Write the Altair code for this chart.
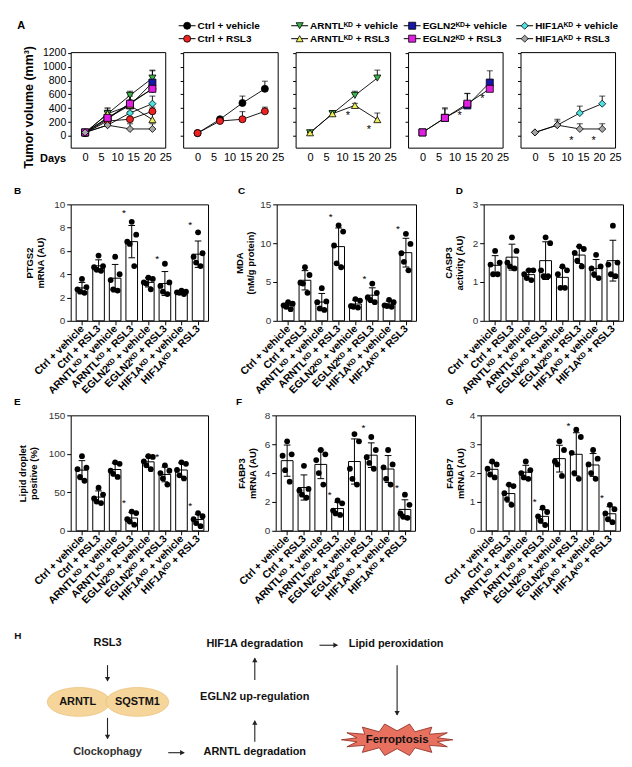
import json, math
import altair as alt
import pandas as pd

FONT = "Liberation Sans"

# ================= Panel A: tumour volume =================
DAYS = [0, 7, 14, 21]
SERIES = ["Ctrl + vehicle", "ARNTLᴷᴰ + vehicle", "EGLN2ᴷᴰ+ vehicle", "HIF1Aᴷᴰ + vehicle",
          "Ctrl + RSL3", "ARNTLᴷᴰ + RSL3", "EGLN2ᴷᴰ + RSL3", "HIF1Aᴷᴰ + RSL3"]
SERIES_GROUP = ["ctrl", "arntl", "egln2", "hif1a", "ctrl", "arntl", "egln2", "hif1a"]
SERIES_COL = [1, 2, 3, 4, 1, 2, 3, 4]
SERIES_ROW = [0, 0, 0, 0, 1, 1, 1, 1]
SERIES_FILL = ["#000000", "#3cb44a", "#1616a8", "#4ee3e3", "#ee2222", "#f0ef5a", "#e11fe0", "#a6a6a6"]
SERIES_SHAPE = ["circle", "triangle-down", "square", "diamond", "circle", "triangle-up", "square", "diamond"]

ctrl_vehicle_vol = [40, 240, 475, 680]
arntl_vehicle_vol = [45, 320, 585, 835]
egln2_vehicle_vol = [50, 260, 440, 770]
hif1a_vehicle_vol = [50, 155, 330, 465]
ctrl_rsl3_vol = [40, 215, 240, 355]
arntl_rsl3_vol = [45, 320, 440, 235]
egln2_rsl3_vol = [50, 260, 465, 680]
hif1a_rsl3_vol = [50, 155, 100, 100]

ctrl_vehicle_err = [5, 25, 100, 110]
arntl_vehicle_err = [5, 45, 60, 115]
egln2_vehicle_err = [5, 145, 170, 170]
hif1a_vehicle_err = [5, 60, 100, 110]
ctrl_rsl3_err = [5, 20, 110, 60]
arntl_rsl3_err = [5, 40, 30, 95]
egln2_rsl3_err = [5, 130, 150, 120]
hif1a_rsl3_err = [5, 85, 75, 75]

VOL = [ctrl_vehicle_vol, arntl_vehicle_vol, egln2_vehicle_vol, hif1a_vehicle_vol,
       ctrl_rsl3_vol, arntl_rsl3_vol, egln2_rsl3_vol, hif1a_rsl3_vol]
ERR = [ctrl_vehicle_err, arntl_vehicle_err, egln2_vehicle_err, hif1a_vehicle_err,
       ctrl_rsl3_err, arntl_rsl3_err, egln2_rsl3_err, hif1a_rsl3_err]

A_STAR_GROUP = ["arntl", "arntl", "egln2", "egln2", "hif1a", "hif1a"]
A_STAR_DAY = [11.8, 18.4, 11.6, 18.7, 11.4, 18.3]
A_STAR_VOL = [330, 125, 330, 570, -25, -25]

# ================= Bar panels B-G =================
CATS = ["Ctrl + vehicle", "Ctrl + RSL3", "ARNTLᴷᴰ + vehicle", "ARNTLᴷᴰ + RSL3",
        "EGLN2ᴷᴰ + vehicle", "EGLN2ᴷᴰ + RSL3", "HIF1Aᴷᴰ + vehicle", "HIF1Aᴷᴰ + RSL3"]

ptgs2_dots = [[3.6, 2.9, 2.7, 2.5, 2.4], [5.6, 4.7, 4.6, 4.4, 4.3], [5.5, 4.0, 3.5, 2.7, 2.6],
              [8.5, 7.4, 6.8, 6.6, 4.7], [3.7, 3.6, 3.3, 3.2, 2.7], [4.9, 3.3, 3.0, 2.5, 2.3],
              [2.6, 2.5, 2.45, 2.4, 2.3], [7.6, 5.8, 5.5, 5.0, 4.7]]
mda_dots = [[2.4, 2.2, 2.0, 1.8, 1.5], [6.9, 5.9, 4.9, 4.8, 3.6], [4.2, 2.5, 2.4, 1.6, 1.4],
            [12.3, 11.5, 9.7, 7.4, 6.9], [2.8, 2.6, 1.9, 1.8, 1.7], [4.8, 3.6, 3.0, 2.7, 2.4],
            [2.7, 2.4, 2.0, 1.9, 1.8], [11.2, 9.9, 8.7, 7.6, 6.5]]
casp3_dots = [[1.8, 1.5, 1.45, 1.2, 1.2], [2.15, 1.8, 1.5, 1.4, 1.35], [1.3, 1.3, 1.2, 1.1, 1.05],
              [2.15, 2.0, 1.3, 1.15, 1.15], [1.4, 1.3, 1.2, 0.85, 0.85], [1.92, 1.85, 1.75, 1.55, 1.4],
              [1.7, 1.4, 1.35, 1.2, 1.1], [2.45, 1.5, 1.45, 1.2, 1.15]]
lipid_dots = [[97, 82, 80, 70, 65], [56, 47, 42, 38, 36], [89, 87, 78, 74, 70], [25, 23, 15, 12, 8],
              [97, 96, 90, 85, 80], [85, 78, 75, 68, 60], [89, 87, 79, 72, 68], [23, 19, 15, 10, 6]]
fabp3_dots = [[6.2, 5.3, 5.2, 4.2, 3.4], [4.5, 2.9, 2.8, 2.5, 2.3], [5.6, 5.3, 4.9, 4.0, 3.2],
              [2.1, 1.9, 1.4, 1.2, 1.1], [6.7, 6.2, 4.3, 3.6, 3.2], [6.5, 5.6, 5.1, 4.7, 4.3],
              [5.6, 4.6, 4.4, 3.6, 3.2], [2.5, 1.8, 1.2, 1.0, 0.9]]
fabp7_dots = [[2.4, 2.3, 2.15, 1.95, 1.85], [1.6, 1.55, 1.3, 1.1, 0.9], [2.4, 2.1, 2.0, 1.85, 1.8],
              [0.8, 0.65, 0.5, 0.35, 0.2], [3.1, 2.8, 2.4, 2.3, 1.9], [3.5, 3.25, 2.7, 2.0, 1.8],
              [2.8, 2.5, 2.3, 2.0, 1.8], [0.9, 0.75, 0.6, 0.4, 0.3]]

STAR_BARS = [3, 5, 7]
ptgs2_stars = [9.5, 5.6, 8.5]
mda_stars = [13.8, 5.8, 12.2]
lipid_stars = [40, 100, 36]
fabp3_stars = [2.7, 7.3, 3.2]
fabp7_stars = [1.1, 3.75, 1.25]

JIT = [0.0, 0.27, -0.27, -0.12, 0.15]

# ================= Panel H: diagram =================
H_TEXT = ["H", "RSL3", "ARNTL", "SQSTM1", "Clockophagy", "ARNTL degradation", "EGLN2 up-regulation",
          "HIF1A degradation", "Lipid peroxidation", "Ferroptosis"]
H_TX = [17, 107, 77, 137, 107, 255, 255, 255, 397, 398]
H_TY = [636, 643, 702, 702, 752, 752, 697, 644, 644, 740]
H_TSIZE = [10, 11, 11, 11, 11, 11, 11, 11, 11, 11.5]
H_TCOLOR = ["#111", "#111", "#111", "#111", "#333", "#111", "#111", "#111", "#111", "#111"]
ARROW_X1 = [107, 107, 168, 255, 255, 320, 398]
ARROW_Y1 = [665, 718, 753, 742, 680, 645, 665]
ARROW_X2 = [107, 107, 184, 255, 255, 338, 398]
ARROW_Y2 = [681, 739, 753, 721, 658, 645, 715]
ELL_X = [78, 137]
ELL_Y = [702, 702]
STAR_X = [398]
STAR_Y = [740]

# ---------- layout knobs ----------
H_X0, H_W = 70, 460
H_Y0, H_H = 627, 130

fill_scale = alt.Scale(domain=SERIES, range=SERIES_FILL)
shape_scale = alt.Scale(domain=SERIES, range=SERIES_SHAPE)

# ================= legend row (with panel letter A) =================
dfL = pd.DataFrame({"series": SERIES, "col": SERIES_COL, "row": SERIES_ROW})
lx = alt.Scale(domain=[0, 4.9], nice=False, zero=False)
ly = alt.Scale(domain=[-0.5, 1.5], nice=False, zero=False, reverse=True)
lbase = alt.Chart(dfL).transform_calculate(
    a="datum.col - 0.04", b="datum.col + 0.11", m="datum.col + 0.035", t="datum.col + 0.128")
leg_line = lbase.mark_rule(color="black", strokeWidth=1).encode(
    x=alt.X("a:Q", scale=lx, axis=None), x2="b:Q", y=alt.Y("row:Q", scale=ly, axis=None))
leg_pt = lbase.mark_point(filled=True, size=50, opacity=1, stroke="black", strokeWidth=0.8).encode(
    x=alt.X("m:Q", scale=lx, axis=None), y=alt.Y("row:Q", scale=ly, axis=None),
    fill=alt.Fill("series:N", scale=fill_scale, legend=None),
    shape=alt.Shape("series:N", scale=shape_scale, legend=None))
leg_txt = lbase.mark_text(align="left", baseline="middle", fontSize=10, fontWeight="bold",
                          color="black", font=FONT).encode(
    x=alt.X("t:Q", scale=lx, axis=None), y=alt.Y("row:Q", scale=ly, axis=None), text="series:N")
leg_A = alt.Chart(pd.DataFrame({"t": ["A"], "x": [-0.44], "y": [0.05]})).mark_text(
    fontSize=11, fontWeight="bold", baseline="middle", align="center", font=FONT, color="black").encode(
    x=alt.X("x:Q", scale=lx, axis=None), y=alt.Y("y:Q", scale=ly, axis=None), text="t:N")
legend_row = alt.layer(leg_line, leg_pt, leg_txt, leg_A).properties(
    width=554, height=26, view=alt.ViewBackground(stroke="transparent"))

# ================= build panel A =================
rows = []
for s, g, vol, err in zip(SERIES, SERIES_GROUP, VOL, ERR):
    for d, v, e in zip(DAYS, vol, err):
        rows.append({"series": s, "group": g, "day": d, "v": v, "top": v + e})
dfA = pd.DataFrame(rows)
dfAS = pd.DataFrame({"group": A_STAR_GROUP, "day": A_STAR_DAY, "v": A_STAR_VOL})

A_XTICKS = [0, 5, 10, 15, 20, 25]
A_YTICKS = [0, 200, 400, 600, 800, 1000, 1200]


def panel_a(groups, first):
    d = dfA[dfA["group"].isin(groups)]
    xs = alt.Scale(domain=[-4.5, 25], nice=False, zero=False)
    ys = alt.Scale(domain=[-170, 1210], nice=False, zero=False)
    xkw = dict(values=A_XTICKS, tickCount=len(A_XTICKS), grid=False, domain=False, ticks=False,
               labelPadding=4, labelFontSize=11, labelColor="black", labelFlush=False,
               labelOverlap=False, format="d")
    if first:
        xkw.update(title="Days", titleX=-5, titleY=11, titleAlign="right", titleBaseline="middle",
                   titleAngle=0, titleFontSize=11, titleFontWeight="bold")
    else:
        xkw.update(title=None)
    ykw = dict(values=A_YTICKS, tickCount=len(A_YTICKS), grid=False, domain=False, ticks=True,
               tickSize=3, tickColor="black", labelFontSize=10.5, labelColor="black",
               labelPadding=2, labelOverlap=False, format="d")
    if first:
        ykw.update(title="Tumor volume (mm³)", titleFontSize=12.5, titleFontWeight="bold",
                   titleX=-42, titleY=55, titleBaseline="middle", titleAlign="center")
    else:
        ykw.update(labels=False, title=None)
    X = alt.X("day:Q", scale=xs, axis=alt.Axis(**xkw))
    Y = alt.Y("v:Q", scale=ys, axis=alt.Axis(**ykw))
    base = alt.Chart(d)
    line = base.mark_line(color="black", strokeWidth=0.9).encode(x=X, y=Y, detail="series:N")
    err = base.mark_rule(color="black", strokeWidth=0.9).encode(x="day:Q", y="v:Q", y2="top:Q")
    cap = base.mark_tick(orient="horizontal", size=6, thickness=1, color="black").encode(
        x="day:Q", y="top:Q")
    pts = base.mark_point(filled=True, size=50, opacity=1, stroke="black", strokeWidth=0.8).encode(
        x="day:Q", y="v:Q",
        fill=alt.Fill("series:N", scale=fill_scale, legend=None),
        shape=alt.Shape("series:N", scale=shape_scale, legend=None))
    layers = [line, err, cap, pts]
    st = dfAS[dfAS["group"].isin(groups)]
    if len(st) > 0 and len(groups) == 1:
        layers.append(alt.Chart(st).mark_text(text="*", fontSize=11, fill="black", baseline="middle",
                                              dy=3).encode(x="day:Q", y="v:Q"))
    return alt.layer(*layers).properties(width=95, height=96)


rowA = alt.hconcat(
    panel_a(["ctrl", "arntl", "egln2", "hif1a"], True),
    panel_a(["ctrl"], False),
    panel_a(["arntl"], False),
    panel_a(["egln2"], False),
    panel_a(["hif1a"], False),
    spacing=7,
)

# ================= build bar panels =================
LABEL_EXPR = "[" + ",".join(json.dumps(c, ensure_ascii=False) for c in CATS) + "][datum.value]"


def bar_panel(letter, dots, stars, ydom, yticks, ytitle, width, height, letter_dx, tpad):
    df = pd.DataFrame([{"i": i, "v": v, "xj": i + JIT[j]}
                       for i, vals in enumerate(dots) for j, v in enumerate(vals)])
    xs = alt.Scale(domain=[-0.68, 7.6], nice=False, zero=False)
    ys = alt.Scale(domain=ydom, nice=False, zero=True)
    xax = alt.Axis(values=list(range(8)), tickCount=8, labelExpr=LABEL_EXPR, labelAngle=-45,
                   labelAlign="right", labelBaseline="middle", labelFontWeight="bold",
                   labelFontSize=10.5, labelColor="black", ticks=True, tickSize=4, tickColor="black",
                   domain=False, grid=False, title=None, labelPadding=2, labelOverlap=False,
                   labelFlush=False)
    yax = alt.Axis(values=yticks, tickCount=len(yticks), ticks=True, tickSize=4, tickColor="black",
                   domain=False, grid=False, labelFontSize=10, labelColor="#333", labelPadding=2,
                   title=ytitle, titleFontWeight="bold", titleFontSize=9.5, titleColor="black",
                   titlePadding=tpad, titleLineHeight=11, labelOverlap=False, format="d")
    base = alt.Chart(df)
    agg = base.transform_aggregate(m="mean(v)", sd="stdev(v)", groupby=["i"]).transform_calculate(
        x0="datum.i - 0.35", x1="datum.i + 0.35", lo="datum.m - datum.sd", hi="datum.m + datum.sd",
        c0="datum.i - 0.2", c1="datum.i + 0.2")
    bars = agg.mark_bar(fill="white", stroke="black", strokeWidth=1).encode(
        x=alt.X("x0:Q", scale=xs, axis=xax), x2="x1:Q", y=alt.Y("m:Q", scale=ys, axis=yax),
        y2=alt.datum(0))
    ev = agg.mark_rule(color="black", strokeWidth=1).encode(x="i:Q", y="lo:Q", y2="hi:Q")
    ch1 = agg.mark_rule(color="black", strokeWidth=1).encode(x="c0:Q", x2="c1:Q", y="hi:Q")
    ch2 = agg.mark_rule(color="black", strokeWidth=1).encode(x="c0:Q", x2="c1:Q", y="lo:Q")
    pts = base.mark_circle(size=34, color="black", opacity=1).encode(x="xj:Q", y="v:Q")
    layers = [bars, ev, ch1, ch2, pts]
    if stars:
        dfs = pd.DataFrame({"x": [b - 0.47 for b in STAR_BARS], "v": stars})
        layers.append(alt.Chart(dfs).mark_text(text="*", fontSize=10, fill="black",
                                               baseline="middle", dy=3).encode(x="x:Q", y="v:Q"))
    return alt.layer(*layers).properties(
        width=width, height=height,
        title=alt.TitleParams(letter, anchor="start", frame="group", dx=letter_dx, offset=3,
                              fontSize=10, fontWeight="bold", font=FONT, color="black"))


pB = bar_panel("B", ptgs2_dots, ptgs2_stars, [0, 10], [0, 2, 4, 6, 8, 10], ["PTGS2", "mRNA (AU)"], 138, 117, -57, 8)
pC = bar_panel("C", mda_dots, mda_stars, [0, 15], [0, 5, 10, 15], ["MDA", "(nM/g protein)"], 140, 117, -39, 4)
pD = bar_panel("D", casp3_dots, [], [0, 3], [0, 1, 2, 3], ["CASP3", "activity (AU)"], 140, 117, -28, 8)
pE = bar_panel("E", lipid_dots, lipid_stars, [0, 150], [0, 50, 100, 150], ["Lipid droplet", "positive (%)"], 138, 116, -57, 10)
pF = bar_panel("F", fabp3_dots, fabp3_stars, [0, 8], [0, 2, 4, 6, 8], ["FABP3", "mRNA (AU)"], 140, 116, -40, 7)
pG = bar_panel("G", fabp7_dots, fabp7_stars, [0, 4], [0, 1, 2, 3, 4], ["FABP7", "mRNA (AU)"], 140, 116, -35, 4)

rowB = alt.hconcat(pB, pC, pD, spacing=25)
rowE = alt.hconcat(pE, pF, pG, spacing=26)

# ================= diagram H =================
hx = alt.Scale(domain=[H_X0, H_X0 + H_W], nice=False, zero=False)
hy = alt.Scale(domain=[H_Y0 + H_H, H_Y0], nice=False, zero=False)
HX = lambda f: alt.X(f, scale=hx, axis=None)
HY = lambda f: alt.Y(f, scale=hy, axis=None)

dfT = pd.DataFrame({"t": H_TEXT, "x": H_TX, "y": H_TY, "c": H_TCOLOR, "s": H_TSIZE})
heads = []
for x1, y1, x2, y2 in zip(ARROW_X1, ARROW_Y1, ARROW_X2, ARROW_Y2):
    L = math.hypot(x2 - x1, y2 - y1)
    ux, uy = (x2 - x1) / L, (y2 - y1) / L
    ang = (math.degrees(math.atan2(ux, -uy))) % 360
    heads.append({"x": x2 - 2.5 * ux, "y": y2 - 2.5 * uy, "ang": ang})
dfArr = pd.DataFrame({"x1": ARROW_X1, "y1": ARROW_Y1, "x2": ARROW_X2, "y2": ARROW_Y2})
dfHead = pd.DataFrame(heads)

ELLIPSE = "M-1,0 A1,0.46 0 1,1 1,0 A1,0.46 0 1,1 -1,0 Z"
pts_star = []
nsp = 14
for k in range(2 * nsp):
    a = math.pi * k / nsp
    rx, ry = (1.0, 0.29) if k % 2 == 0 else (0.74, 0.16)
    pts_star.append((rx * math.cos(a), ry * math.sin(a)))
STAR = "M" + " L".join(f"{px:.3f},{py:.3f}" for px, py in pts_star) + " Z"

dfE = pd.DataFrame({"x": ELL_X, "y": ELL_Y})
dfSt = pd.DataFrame({"x": STAR_X, "y": STAR_Y})

ell = alt.Chart(dfE).mark_point(shape=ELLIPSE, size=63 * 63, filled=True, fill="#f6d59a",
                                 stroke="#e8b86a", strokeWidth=0.6, opacity=1).encode(x=HX("x:Q"), y=HY("y:Q"))
star = alt.Chart(dfSt).mark_point(shape=STAR, size=112 * 112, filled=True, fill="#e8705f",
                                  stroke="#8a2a1e", strokeWidth=0.8, opacity=1).encode(x=HX("x:Q"), y=HY("y:Q"))
arr = alt.Chart(dfArr).mark_rule(color="#222", strokeWidth=1.1).encode(
    x=HX("x1:Q"), y=HY("y1:Q"), x2="x2:Q", y2="y2:Q")
head = alt.Chart(dfHead).mark_point(shape="triangle", size=28, filled=True, color="#222", opacity=1).encode(
    x=HX("x:Q"), y=HY("y:Q"), angle=alt.Angle("ang:Q", scale=None))
txt = alt.Chart(dfT).mark_text(fontWeight="bold", baseline="middle", align="center", font=FONT).encode(
    x=HX("x:Q"), y=HY("y:Q"), text="t:N", color=alt.Color("c:N", scale=None),
    size=alt.Size("s:Q", scale=None))
pH = alt.layer(ell, star, arr, head, txt).properties(
    width=H_W, height=H_H, view=alt.ViewBackground(stroke="transparent"))

top = alt.vconcat(legend_row, rowA, spacing=-2)
mid = alt.vconcat(rowB, rowE, spacing=0)
chart = alt.vconcat(
    alt.vconcat(top, mid, spacing=16),
    pH,
    spacing=20,
).properties(padding={"left": 5, "top": 8.5, "right": 0, "bottom": 0}).configure(
    font=FONT).configure_view(stroke="black", strokeWidth=1)

chart.save("out.html", embed_options={"renderer": "svg", "actions": False})
